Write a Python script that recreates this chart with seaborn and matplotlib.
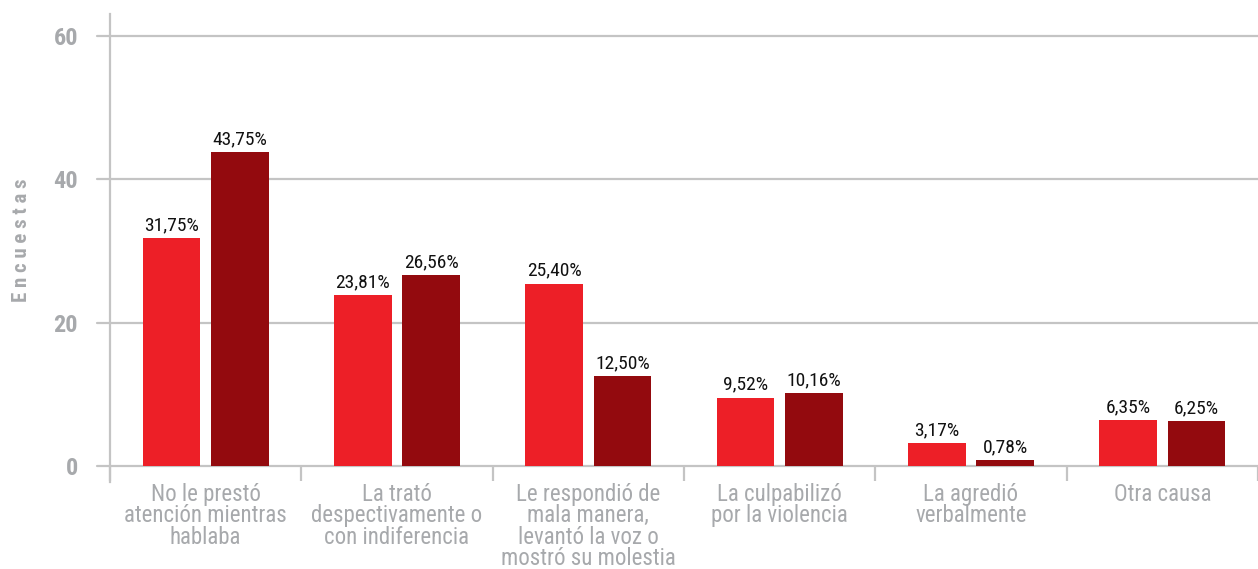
import matplotlib
matplotlib.use("Agg")
import matplotlib.pyplot as plt
import seaborn as sns
import pandas as pd
import numpy as np

# Categorías y porcentajes de cada serie
categorias = [
    "No le prestó\natención mientras\nhablaba",
    "La trató\ndespectivamente o\ncon indiferencia",
    "Le respondió de\nmala manera,\nlevantó la voz o\nmostró su molestia",
    "La culpabilizó\npor la violencia",
    "La agredió\nverbalmente",
    "Otra causa",
]
serie_a = [31.75, 23.81, 25.40, 9.52, 3.17, 6.35]
serie_b = [43.75, 26.56, 12.50, 10.16, 0.78, 6.25]
nombres_series = ["Serie A", "Serie B"]
ticks_y = [0, 20, 40, 60]

colores = ["#ED1F27", "#930A0E"]
gris = "#A7A9AC"
gris_linea = "#C4C4C4"

sns.set_theme(style="white")
plt.rcParams["font.family"] = ["Roboto Condensed", "Archivo Narrow", "DejaVu Sans"]

df = pd.DataFrame({
    "categoria": categorias * 2,
    "serie": [nombres_series[0]] * len(categorias) + [nombres_series[1]] * len(categorias),
    "valor": serie_a + serie_b,
})

fig = plt.figure(figsize=(12.58, 5.69), dpi=100)
ax = fig.add_axes([110 / 1258, (569 - 466) / 569, 1 - 110 / 1258, (466 - 14) / 569])

sns.barplot(
    data=df, x="categoria", y="valor", hue="serie", order=categorias,
    hue_order=nombres_series, palette=colores, width=0.715, gap=0.16,
    saturation=1, legend=False, ax=ax, zorder=3, linewidth=0,
)

# Etiquetas de valor sobre cada barra
for cont in ax.containers:
    etiquetas = [f"{b.get_height():.2f}%".replace(".", ",") for b in cont]
    ax.bar_label(cont, labels=etiquetas, padding=3, fontsize=14, color="#111111")

ax.set_ylim(0, 63)
ax.set_xlim(-0.5, 5.45)
ax.set_yticks(ticks_y)
ax.set_yticklabels([str(t) for t in ticks_y], fontsize=17.5, fontweight="bold", color=gris)

# Rejilla horizontal que sobresale a la izquierda del eje
for t in ticks_y:
    ax.axhline(t, xmin=-13 / 1148, xmax=1, color=gris_linea, lw=1.6, zorder=1, clip_on=False)
ax.tick_params(axis="y", length=0, pad=23)

# Separadores entre categorías
ax.set_xticks(np.arange(len(categorias)))
ax.set_xticklabels(categorias, fontsize=16.5, color=gris, linespacing=0.92)
ax.set_xticks(np.arange(-0.5, len(categorias)), minor=True)
ax.tick_params(axis="x", which="major", bottom=False, length=0, pad=12)
ax.tick_params(axis="x", which="minor", bottom=True, length=11, width=1.6,
               color=gris_linea, direction="out")
ax.set_xlabel("")
ax.set_ylabel("E n c u e s t a s", fontsize=15, fontweight="bold", color=gris, labelpad=16)

for s in ["top", "right", "bottom"]:
    ax.spines[s].set_visible(False)
ax.spines["left"].set_color(gris_linea)
ax.spines["left"].set_linewidth(1.6)
ax.spines["left"].set_bounds(-2.2, 63)

fig.savefig("out.png", dpi=100)
